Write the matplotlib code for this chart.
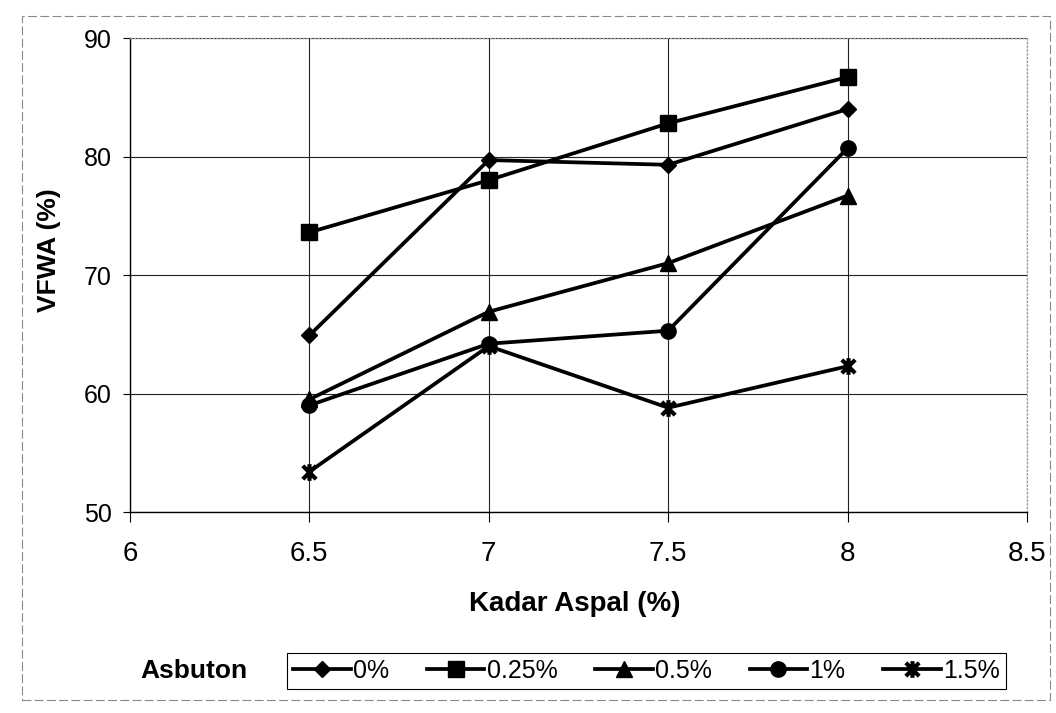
import matplotlib
matplotlib.use("Agg")
import matplotlib.pyplot as plt
from matplotlib.path import Path
from matplotlib.patches import Rectangle

plt.rcParams['font.family'] = ['Liberation Sans', 'DejaVu Sans']

# ---- data ----
kadar_aspal = [6.5, 7.0, 7.5, 8.0]
series_labels = ["0%", "0.25%", "0.5%", "1%", "1.5%"]
vfwa_0 = [64.9, 79.7, 79.3, 84.0]
vfwa_025 = [73.6, 78.0, 82.8, 86.7]
vfwa_05 = [59.5, 66.9, 71.0, 76.7]
vfwa_1 = [59.0, 64.2, 65.3, 80.7]
vfwa_15 = [53.4, 64.0, 58.8, 62.3]
x_ticks = [6, 6.5, 7, 7.5, 8, 8.5]
x_tick_labels = ["6", "6.5", "7", "7.5", "8", "8.5"]
y_ticks = [50, 60, 70, 80, 90]

# star marker (X with vertical bar), like Excel's star
star = Path([(-1, -1), (1, 1), (-1, 1), (1, -1), (0, -1.25), (0, 1.25)],
            [Path.MOVETO, Path.LINETO, Path.MOVETO, Path.LINETO, Path.MOVETO, Path.LINETO])

styles = [
    dict(marker='D', ms=8.5),
    dict(marker='s', ms=11),
    dict(marker='^', ms=11.5),
    dict(marker='o', ms=11),
    dict(marker=star, ms=12, mew=3, mfc='none'),
]
all_series = [vfwa_0, vfwa_025, vfwa_05, vfwa_1, vfwa_15]

fig = plt.figure(figsize=(10.56, 7.13), dpi=100)
ax = fig.add_axes([0.123, 0.2819, 0.9725 - 0.123, 0.9467 - 0.2819])

for vals, lab, st in zip(all_series, series_labels, styles):
    kw = dict(color='black', lw=2.7, mfc='black', mec='black')
    kw.update(st)
    ax.plot(kadar_aspal, vals, label=lab, **kw)

ax.set_xlim(6, 8.5)
ax.set_ylim(50, 90)
ax.set_xticks(x_ticks)
ax.set_xticklabels(x_tick_labels)
ax.set_yticks(y_ticks)
ax.grid(True, color='#222222', lw=0.8)
ax.set_axisbelow(True)

ax.tick_params(axis='x', labelsize=20, length=7, width=0.8, pad=14, direction='out')
ax.tick_params(axis='y', labelsize=18, length=5, width=0.8, pad=8, direction='out')

for s in ['top', 'right']:
    ax.spines[s].set_color('#999999')
    ax.spines[s].set_linestyle((0, (1, 2)))
    ax.spines[s].set_linewidth(0.9)
for s in ['left', 'bottom']:
    ax.spines[s].set_color('black')
    ax.spines[s].set_linewidth(1.0)

ax.set_xlabel("Kadar Aspal (%)", fontsize=20, fontweight='bold', va='center')
ax.xaxis.set_label_coords(0.496, -0.194)
ax.set_ylabel("VFWA (%)", fontsize=19, fontweight='bold', va='center', ha='center')
ax.yaxis.set_label_coords(-0.0903, 0.553)

leg = fig.legend(loc='center', bbox_to_anchor=(646.5 / 1056, 1 - 671 / 713),
                 ncol=5, fontsize=18, numpoints=1, handlelength=2.3,
                 handletextpad=0.1, columnspacing=1.5, borderpad=0.25,
                 fancybox=False, framealpha=1, edgecolor='black')
leg.get_frame().set_linewidth(0.8)

fig.text(194 / 1056, 1 - 671 / 713, "Asbuton", fontsize=19, fontweight='bold',
         ha='center', va='center')

# outer chart-area border
fig.patches.append(Rectangle((22 / 1056, 1 - 700 / 713), (1050 - 22) / 1056, (700 - 16) / 713,
                             transform=fig.transFigure, fill=False, edgecolor='#888888',
                             lw=0.8, linestyle=(0, (8, 3))))

fig.savefig("out.png", dpi=100)
